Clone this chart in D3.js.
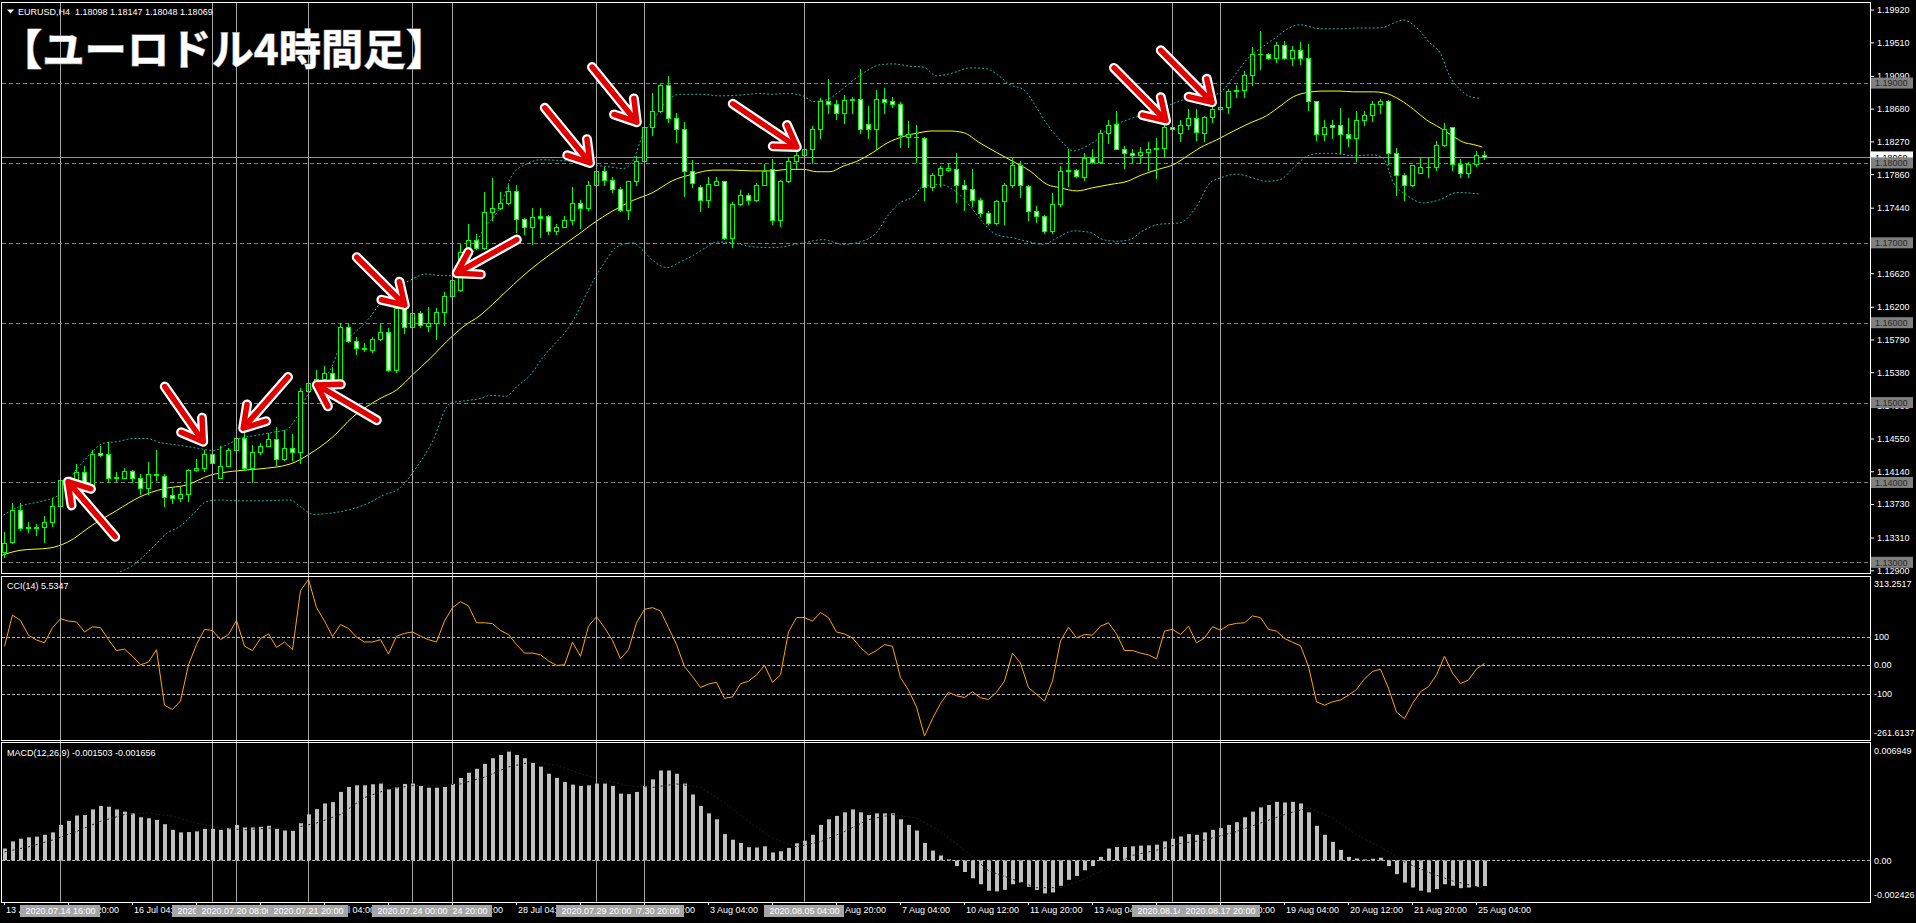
<!DOCTYPE html>
<html>
<head>
<meta charset="utf-8">
<script src="https://cdn.jsdelivr.net/npm/d3@7"></script>
<style>
  body { margin: 0; background: #000; overflow: hidden; }
  svg { display: block; }
</style>
</head>
<body>
<div id="chart"></div>
<script>
// EURUSD H4, 13 Jul 2020 12:00 .. 25 Aug 2020 08:00 (bar index 0..185)
const openP = [1.1313,1.1325,1.1366,1.1343,1.1343,1.1344,1.1350,1.1371,1.1399,1.1399,
  1.1413,1.1394,1.1437,1.1435,1.1406,1.1406,1.1414,1.1405,1.1393,1.1409,
  1.1408,1.1384,1.1381,1.1386,1.1416,1.1418,1.1435,1.1406,1.1421,1.1441,
  1.1456,1.1418,1.1438,1.1446,1.1455,1.1429,1.1443,1.1438,1.1515,1.1525,
  1.1530,1.1537,1.1524,1.1595,1.1577,1.1568,1.1566,1.1579,1.1588,1.1541,
  1.1618,1.1595,1.1612,1.1596,1.1599,1.1614,1.1634,1.1641,1.1688,1.1703,
  1.1694,1.1738,1.1744,1.1750,1.1765,1.1730,1.1720,1.1734,1.1734,1.1715,
  1.1720,1.1729,1.1750,1.1743,1.1773,1.1790,1.1779,1.1768,1.1741,1.1777,
  1.1803,1.1845,1.1865,1.1897,1.1856,1.1843,1.1790,1.1770,1.1753,1.1773,
  1.1778,1.1706,1.1748,1.1760,1.1753,1.1773,1.1792,1.1729,1.1777,1.1802,
  1.1810,1.1818,1.1842,1.1877,1.1874,1.1863,1.1879,1.1880,1.1849,1.1843,
  1.1880,1.1877,1.1874,1.1833,1.1832,1.1831,1.1770,1.1785,1.1791,1.1792,
  1.1773,1.1768,1.1753,1.1737,1.1725,1.1752,1.1772,1.1798,1.1771,1.1740,
  1.1733,1.1715,1.1748,1.1790,1.1791,1.1783,1.1806,1.1801,1.1838,1.1849,
  1.1818,1.1813,1.1810,1.1814,1.1817,1.1819,1.1845,1.1838,1.1848,1.1856,
  1.1838,1.1858,1.1867,1.1870,1.1890,1.1891,1.1910,1.1936,1.1936,1.1931,
  1.1948,1.1931,1.1941,1.1931,1.1878,1.1836,1.1848,1.1847,1.1836,1.1831,
  1.1854,1.1860,1.1874,1.1878,1.1812,1.1785,1.1773,1.1788,1.1795,1.1795,
  1.1823,1.1845,1.1799,1.1788,1.1799,1.18098];
const highP = [1.1338,1.1374,1.1374,1.1350,1.1348,1.1358,1.1380,1.1404,1.1405,1.1423,
  1.1420,1.1441,1.1446,1.1451,1.1413,1.1418,1.1415,1.1410,1.1425,1.1441,
  1.1410,1.1394,1.1394,1.1417,1.1429,1.1441,1.1436,1.1446,1.1443,1.1457,
  1.1462,1.1447,1.1449,1.1462,1.1470,1.1466,1.1461,1.1518,1.1528,1.1541,
  1.1546,1.1545,1.1600,1.1600,1.1582,1.1574,1.1582,1.1599,1.1593,1.1620,
  1.1620,1.1613,1.1615,1.1620,1.1618,1.1638,1.1655,1.1698,1.1724,1.1711,
  1.1764,1.1781,1.1764,1.1772,1.1773,1.1731,1.1743,1.1743,1.1735,1.1723,
  1.1733,1.1770,1.1753,1.1777,1.1799,1.1795,1.1782,1.1770,1.1778,1.1809,
  1.1847,1.1888,1.1899,1.1909,1.1863,1.1851,1.1804,1.1772,1.1782,1.1782,
  1.1778,1.1751,1.1766,1.1762,1.1775,1.1799,1.1805,1.1779,1.1806,1.1815,
  1.1819,1.1846,1.1881,1.1905,1.1879,1.1885,1.1883,1.1917,1.1871,1.1891,
  1.1894,1.1883,1.1876,1.1852,1.1847,1.1833,1.1788,1.1796,1.1800,1.1812,
  1.1779,1.1792,1.1756,1.1740,1.1754,1.1775,1.1806,1.1802,1.1772,1.1746,
  1.1735,1.1762,1.1796,1.1817,1.1792,1.1812,1.1818,1.1841,1.1854,1.1865,
  1.1821,1.1817,1.1820,1.1826,1.1831,1.1849,1.1847,1.1854,1.1868,1.1868,
  1.1859,1.1872,1.1875,1.1892,1.1898,1.1915,1.1945,1.1965,1.1938,1.1952,
  1.1953,1.1946,1.1951,1.1949,1.1878,1.1854,1.1854,1.1869,1.1856,1.1865,
  1.1865,1.1878,1.1880,1.1879,1.1819,1.1788,1.1798,1.1806,1.1806,1.1827,
  1.1850,1.1845,1.1805,1.1801,1.1815,1.18147];
const lowP = [1.1307,1.1324,1.1340,1.1338,1.1334,1.1325,1.1346,1.1370,1.1398,1.1398,
  1.1394,1.1393,1.1433,1.1401,1.1402,1.1405,1.1401,1.1385,1.1386,1.1403,
  1.1370,1.1374,1.1377,1.1377,1.1414,1.1414,1.1423,1.1405,1.1420,1.1440,
  1.1416,1.1401,1.1435,1.1445,1.1422,1.1428,1.1428,1.1424,1.1509,1.1524,
  1.1528,1.1523,1.1523,1.1576,1.1561,1.1565,1.1563,1.1578,1.1540,1.1538,
  1.1587,1.1594,1.1594,1.1589,1.1579,1.1597,1.1633,1.1640,1.1686,1.1692,
  1.1692,1.1728,1.1742,1.1749,1.1713,1.1711,1.1699,1.1707,1.1711,1.1711,
  1.1720,1.1724,1.1718,1.1741,1.1772,1.1772,1.1764,1.1740,1.1730,1.1773,
  1.1802,1.1835,1.1864,1.1851,1.1826,1.1759,1.1770,1.1740,1.1745,1.1773,
  1.1705,1.1695,1.1747,1.1749,1.1752,1.1772,1.1723,1.1721,1.1776,1.1794,
  1.1804,1.1800,1.1831,1.1863,1.1855,1.1850,1.1863,1.1838,1.1831,1.1817,
  1.1863,1.1870,1.1820,1.1820,1.1801,1.1753,1.1766,1.1771,1.1790,1.1751,
  1.1741,1.1746,1.1733,1.1724,1.1723,1.1723,1.1770,1.1757,1.1729,1.1726,
  1.1712,1.1712,1.1746,1.1771,1.1782,1.1779,1.1800,1.1800,1.1825,1.1817,
  1.1794,1.1800,1.1800,1.1791,1.1781,1.1809,1.1840,1.1828,1.1843,1.1829,
  1.1828,1.1851,1.1862,1.1863,1.1883,1.1883,1.1897,1.1918,1.1930,1.1927,
  1.1930,1.1922,1.1924,1.1866,1.1829,1.1829,1.1831,1.1812,1.1821,1.1802,
  1.1848,1.1852,1.1862,1.1799,1.1760,1.1753,1.1771,1.1787,1.1783,1.1791,
  1.1821,1.1791,1.1783,1.1783,1.1796,1.18048];
const closeP = [1.1324,1.1366,1.1343,1.1344,1.1344,1.1350,1.1371,1.1403,1.1403,1.1413,
  1.1395,1.1436,1.1434,1.1406,1.1407,1.1414,1.1405,1.1393,1.1410,1.1411,
  1.1382,1.1381,1.1386,1.1416,1.1418,1.1435,1.1424,1.1421,1.1441,1.1456,
  1.1418,1.1438,1.1446,1.1455,1.1429,1.1443,1.1438,1.1515,1.1525,1.1530,
  1.1537,1.1524,1.1595,1.1577,1.1568,1.1567,1.1579,1.1588,1.1541,1.1618,
  1.1595,1.1612,1.1597,1.1599,1.1614,1.1634,1.1654,1.1688,1.1704,1.1694,
  1.1738,1.1744,1.1750,1.1765,1.1730,1.1720,1.1732,1.1731,1.1715,1.1720,
  1.1729,1.1750,1.1743,1.1773,1.1790,1.1779,1.1768,1.1741,1.1777,1.1803,
  1.1845,1.1865,1.1897,1.1856,1.1843,1.1790,1.1775,1.1753,1.1774,1.1778,
  1.1706,1.1748,1.1760,1.1753,1.1773,1.1790,1.1728,1.1777,1.1802,1.1810,
  1.1818,1.1842,1.1877,1.1874,1.1863,1.1879,1.1880,1.1843,1.1843,1.1880,
  1.1876,1.1874,1.1835,1.1836,1.1832,1.1770,1.1785,1.1794,1.1794,1.1772,
  1.1768,1.1753,1.1737,1.1725,1.1752,1.1772,1.1798,1.1772,1.1740,1.1734,
  1.1715,1.1748,1.1790,1.1791,1.1784,1.1806,1.1801,1.1838,1.1848,1.1818,
  1.1813,1.1810,1.1814,1.1817,1.1819,1.1845,1.1842,1.1848,1.1856,1.1839,
  1.1858,1.1868,1.1870,1.1890,1.1891,1.1910,1.1936,1.1937,1.1931,1.1948,
  1.1931,1.1941,1.1931,1.1878,1.1836,1.1845,1.1845,1.1836,1.1831,1.1854,
  1.1860,1.1874,1.1878,1.1812,1.1785,1.1773,1.1797,1.1795,1.1795,1.1823,
  1.1842,1.1799,1.1788,1.1799,1.1810,1.18069];

// moving average and Bollinger bands at these bar positions
const maBar = [-0.5,2,5.75,7.9,11.1,14.1,17,19.9,22.9,25.75,28.6,32,35.75,38.25,41.1,43.6,47,49.1,51.2,53.25,55.3,57.4,59.5,61.6,63.7,65.75,67.8,69.9,72,73.6,76.1,78.6,81.1,83.6,86.1,88.6,91.1,93.6,95.75,98.25,99.9,101.6,103.25,104.9,106.6,108.6,110.4,112.4,114.5,116,118.25,119.9,122,124.1,126.1,128.25,130.4,132,134.1,136.1,138.25,140.4,142.2,144.3,146.2,147.8,149.5,151.6,153.7,155.75,157.8,159.5,161.2,162.8,164.9,167,168.7,171.2,172.4,174.5,176.2,177.8,179.5,181.2,182.4,183.7,184.8];
const maVal = [1.1308,1.1315,1.1318,1.1325,1.1347,1.1365,1.1382,1.1392,1.1397,1.1409,1.1414,1.1417,1.1423,1.1436,1.1457,1.1482,1.1505,1.1516,1.1536,1.1555,1.1576,1.1595,1.1609,1.1628,1.1648,1.1666,1.1682,1.1697,1.1712,1.1724,1.1740,1.1753,1.1763,1.1778,1.1786,1.1791,1.1791,1.1790,1.1790,1.1792,1.1792,1.1789,1.1789,1.1796,1.1802,1.1813,1.1825,1.1833,1.1838,1.1840,1.1840,1.1838,1.1825,1.1813,1.1802,1.1790,1.1773,1.1769,1.1765,1.1769,1.1773,1.1777,1.1785,1.1792,1.1798,1.1808,1.1819,1.1829,1.1840,1.1850,1.1859,1.1871,1.1883,1.1888,1.1890,1.1890,1.1889,1.1889,1.1888,1.1879,1.1867,1.1854,1.1844,1.1833,1.1826,1.1823,1.1820];
const upBar = [-0.1,2,4.9,6.8,8.25,9.9,11.2,12.4,14.1,16.2,17.8,19.5,21.6,24.1,26.2,27.8,29.5,31.6,33.7,35.3,36.6,37.8,39.1,40.75,42,43.7,45.75,47.4,48.8,50.3,52.8,54.5,56.2,57.4,58.7,59.5,62,63.6,65.4,67,69.5,72,74.1,75.75,77.4,78.6,79.9,81.1,82.9,84.5,87,89.5,92,94.5,96,97.8,99.9,101.1,102.8,104.5,106.2,107.8,109.5,111.2,113.25,114.9,116.6,118.7,120.75,122.8,124.5,125.75,127.4,129.1,130.4,132,133.7,134.9,136.6,138.25,139.9,141.6,143.25,145.3,147.4,150.3,152,153.7,155.3,157.4,159.1,160.3,162,164.5,167,169.5,172,173.7,174.9,176.6,178.25,179.5,180.75,182,183.25,184.5];
const upVal = [1.1359,1.1370,1.1377,1.1384,1.1406,1.1426,1.1440,1.1449,1.1451,1.1455,1.1455,1.1450,1.1447,1.1443,1.1440,1.1447,1.1455,1.1459,1.1463,1.1466,1.1482,1.1507,1.1524,1.1540,1.1570,1.1586,1.1607,1.1630,1.1645,1.1651,1.1661,1.1659,1.1659,1.1668,1.1690,1.1709,1.1745,1.1786,1.1799,1.1804,1.1803,1.1801,1.1797,1.1795,1.1793,1.1803,1.1836,1.1853,1.1878,1.1886,1.1886,1.1884,1.1885,1.1887,1.1886,1.1887,1.1884,1.1877,1.1879,1.1890,1.1904,1.1915,1.1923,1.1924,1.1921,1.1920,1.1909,1.1913,1.1919,1.1918,1.1908,1.1898,1.1892,1.1869,1.1848,1.1829,1.1815,1.1819,1.1829,1.1845,1.1852,1.1858,1.1863,1.1871,1.1879,1.1883,1.1888,1.1908,1.1929,1.1946,1.1958,1.1967,1.1973,1.1968,1.1968,1.1969,1.1969,1.1975,1.1979,1.1969,1.1950,1.1938,1.1908,1.1892,1.1883,1.1881];
const loBar = [0,5,10,14.75,15.75,17.4,19.1,20.3,22,23.7,25.3,27,29.5,32.4,35.75,37,38.7,40.3,42.8,45.3,47.4,49.5,51.5,53.5,55.75,57.4,59.5,60.75,62.8,64.1,65.75,67.4,68.7,70.3,71.6,72.8,74.1,75.3,76.6,78.6,79.9,81.1,82.9,84.5,86.1,87.9,89.1,91.1,93.6,96.1,99.9,102.4,104.9,107.8,109.1,110.4,112,113.7,114.9,117,119.1,120.75,122.4,124.1,126.2,128.25,129.9,131.6,133.7,135.75,137.4,139.1,140.75,142.2,144.3,147,149.1,150.75,152,154.1,156.2,157.8,159.5,161.2,162.8,164.5,166.2,168.7,171.2,172.4,173.7,175.3,177.4,179.5,181.6,184.5];
const loVal = [1.1250,1.1262,1.1276,1.1289,1.1294,1.1307,1.1324,1.1336,1.1345,1.1361,1.1376,1.1378,1.1377,1.1377,1.1378,1.1370,1.1360,1.1361,1.1365,1.1373,1.1384,1.1393,1.1418,1.1450,1.1499,1.1502,1.1505,1.1509,1.1508,1.1520,1.1534,1.1557,1.1572,1.1590,1.1611,1.1636,1.1660,1.1679,1.1695,1.1700,1.1690,1.1678,1.1669,1.1676,1.1684,1.1695,1.1701,1.1700,1.1695,1.1694,1.1700,1.1704,1.1698,1.1704,1.1713,1.1733,1.1750,1.1758,1.1771,1.1773,1.1763,1.1746,1.1725,1.1710,1.1706,1.1701,1.1698,1.1706,1.1715,1.1713,1.1704,1.1702,1.1704,1.1714,1.1723,1.1725,1.1746,1.1775,1.1781,1.1786,1.1781,1.1777,1.1779,1.1794,1.1808,1.1812,1.1812,1.1809,1.1810,1.1806,1.1775,1.1760,1.1750,1.1754,1.1763,1.1761];

// CCI(14), one value per bar
const cciVal = [66,175,156,104,88,78,131,162,154,151,116,134,131,89,51,56,31,1,11,54,
  -140,-155,-125,1,72,125,121,89,107,156,66,51,93,109,62,81,54,260,300,201,
  154,100,142,128,98,81,81,89,39,101,111,116,101,89,81,154,201,222,207,148,
  148,145,121,107,72,42,42,36,15,-1,1,80,31,136,169,131,86,22,54,148,
  195,201,189,131,72,-5,-40,-78,-66,-60,-116,-111,-65,-56,-34,-1,-60,-34,116,166,
  166,154,184,166,116,109,95,62,36,51,72,66,-44,-87,-146,-248,-187,-134,-95,-107,
  -113,-93,-114,-120,-95,-55,42,7,-79,-102,-126,-55,84,133,95,107,105,136,148,109,
  51,51,42,36,22,119,125,107,136,78,95,134,122,140,146,148,172,166,125,119,
  93,80,68,-5,-128,-140,-128,-122,-105,-85,-48,-22,-14,-81,-164,-187,-134,-93,-75,-34,
  31,-28,-64,-52,-13,5.5347];

// MACD(12,26,9) main values per bar, signal line sampled
const macdVal = [0.00070,0.00112,0.00128,0.00136,0.00140,0.00151,0.00165,0.00209,0.00233,0.00264,
  0.00267,0.00300,0.00320,0.00316,0.00300,0.00287,0.00277,0.00254,0.00248,0.00238,
  0.00213,0.00180,0.00165,0.00167,0.00171,0.00186,0.00186,0.00180,0.00190,0.00209,
  0.00194,0.00194,0.00198,0.00204,0.00186,0.00176,0.00174,0.00219,0.00271,0.00302,
  0.00335,0.00343,0.00403,0.00432,0.00442,0.00442,0.00448,0.00452,0.00419,0.00430,
  0.00450,0.00452,0.00438,0.00428,0.00428,0.00432,0.00450,0.00485,0.00516,0.00539,
  0.00568,0.00601,0.00620,0.00640,0.00620,0.00601,0.00574,0.00552,0.00510,0.00485,
  0.00461,0.00446,0.00438,0.00442,0.00452,0.00452,0.00438,0.00393,0.00390,0.00403,
  0.00438,0.00477,0.00529,0.00529,0.00510,0.00452,0.00388,0.00320,0.00277,0.00242,
  0.00155,0.00122,0.00103,0.00078,0.00076,0.00083,0.00047,0.00054,0.00074,0.00101,
  0.00116,0.00151,0.00209,0.00242,0.00262,0.00283,0.00300,0.00283,0.00267,0.00277,
  0.00277,0.00277,0.00242,0.00209,0.00176,0.00103,0.00058,0.00029,0.00006,-0.00033,
  -0.00068,-0.00105,-0.00140,-0.00178,-0.00182,-0.00173,-0.00140,-0.00130,-0.00155,-0.00174,
  -0.00194,-0.00188,-0.00149,-0.00114,-0.00091,-0.00058,-0.00033,0.00021,0.00070,0.00079,
  0.00079,0.00083,0.00087,0.00089,0.00093,0.00112,0.00128,0.00141,0.00155,0.00151,
  0.00165,0.00180,0.00190,0.00209,0.00225,0.00254,0.00287,0.00312,0.00326,0.00345,
  0.00341,0.00345,0.00335,0.00283,0.00204,0.00151,0.00109,0.00062,0.00021,0.00012,
  0.00006,0.00010,0.00016,-0.00033,-0.00081,-0.00130,-0.00159,-0.00178,-0.00188,-0.00169,
  -0.00140,-0.00149,-0.00163,-0.00159,-0.00155,-0.001503];
const sigBar = [0,3,6,9,12,15,18,21,24,27,30,33,36,39,42,45,48,51,54,57,60,63,66,69,72,75,78,81,84,87,90,93,96,99,102,105,108,111,114,117,120,123,126,129,132,135,138,141,144,147,150,154,157,160,163,166,169,172,175,178,181,185];
const sigVal = [0.0005,0.0008,0.0012,0.0017,0.0023,0.0027,0.0028,0.0026,0.0022,0.0019,0.0018,0.0019,0.0019,0.0022,0.0027,0.0037,0.0042,0.0044,0.0044,0.0045,0.0049,0.0055,0.0058,0.0056,0.0051,0.0047,0.0044,0.0043,0.0045,0.0043,0.0034,0.0023,0.0013,0.0008,0.0011,0.0017,0.0024,0.0027,0.0025,0.0017,0.0006,-0.0006,-0.0011,-0.0016,-0.0016,-0.0011,-0.0004,0.0003,0.0006,0.0010,0.0012,0.0017,0.0022,0.0027,0.0031,0.0025,0.0015,0.0008,-0.0001,-0.0007,-0.0012,-0.001656];

// axis labels and drawn objects
const tickBars = [0,8,16,24,32,40,48,56,64,72,80,88,96,104,112,120,128,136,144,152,160,168,176,184];
const tickLabels = ["13 Jul 12:00","14 Jul 20:00","16 Jul 04:00","17 Jul 12:00","20 Jul 20:00","22 Jul 04:00",
  "23 Jul 12:00","24 Jul 20:00","28 Jul 04:00","29 Jul 12:00","30 Jul 20:00","3 Aug 04:00","4 Aug 12:00",
  "5 Aug 20:00","7 Aug 04:00","10 Aug 12:00","11 Aug 20:00","13 Aug 04:00","14 Aug 12:00","17 Aug 20:00",
  "19 Aug 04:00","20 Aug 12:00","21 Aug 20:00","25 Aug 04:00"];
// vertical lines, listed in the order their axis labels are stacked
const vlineBars = [7,26,29,38,56,51,80,74,100,146,152];
const vlineLabels = ["2020.07.14 16:00","2020.07.17 20:00","2020.07.20 08:00","2020.07.21 20:00","2020.07.24 20:00",
  "2020.07.24 00:00","2020.07.30 20:00","2020.07.29 20:00","2020.08.05 04:00","2020.08.14 20:00","2020.08.17 20:00"];
const hlinePrices = [1.19,1.18,1.17,1.16,1.15,1.14,1.13];
const priceTicks = [1.19920,1.19510,1.19090,1.18680,1.18270,1.17860,1.17440,1.17030,1.16620,
  1.16200,1.15790,1.15380,1.14960,1.14550,1.14140,1.13730,1.13310,1.12900];
const lastPrice = 1.18069;
const cciLevels = [100, 0, -100];
const cciLabelVals = [313.2517, 100, 0, -100, -261.6137];
const cciLabelText = ["313.2517", "100", "0.00", "-100", "-261.6137"];
const macdLabelVals = [0.006949, 0, -0.002426];
const macdLabelText = ["0.006949", "0.00", "-0.002426"];

// red hand-drawn arrows: tip and tail in (bar, price)
const arrowTipBar = [8, 24.9, 29.9, 39.1, 50.1, 56.6, 73.25, 79.1, 99.1, 145.25, 151];
const arrowTipPrice = [1.1401, 1.1451, 1.1468, 1.1522, 1.1622, 1.1662, 1.1800, 1.1851, 1.1820, 1.1853, 1.1876];
const arrowTailBar = [13.9, 20.1, 35.5, 46.6, 44.1, 64.1, 67.6, 73.5, 91.1, 138.75, 144.6];
const arrowTailPrice = [1.1332, 1.1520, 1.1532, 1.1478, 1.1682, 1.1704, 1.1869, 1.1920, 1.1874, 1.1919, 1.1941];

const W = 1916, H = 923;
const right = 1870;
const mainTop = 2, mainBottom = 572.7;
const cciTop = 575.5, cciBottom = 740;
const macdTop = 742.3, macdBottom = 901.7;
const font = "'Liberation Sans', Arial, sans-serif";
const fs = 9;
const lime = "#00ff00";

const x = d3.scaleLinear().domain([0, 185]).range([4, 1484]);
const yMain = d3.scaleLinear().domain([1.1287, 1.20015]).range([mainBottom, mainTop]);
const yCci = d3.scaleLinear().domain([-261.6137, 313.2517]).range([cciBottom, cciTop]);
const yMacd = d3.scaleLinear().domain([-0.002426, 0.006949]).range([macdBottom, macdTop]);

const svg = d3.select("#chart").append("svg")
  .attr("width", W).attr("height", H)
  .style("background", "#000");

const defs = svg.append("defs");
[["clipMain", mainTop, mainBottom], ["clipCci", cciTop, cciBottom], ["clipMacd", macdTop, macdBottom]]
  .forEach(([id, t, b]) => {
    defs.append("clipPath").attr("id", id).append("rect")
      .attr("x", 2).attr("y", t).attr("width", right - 2).attr("height", b - t);
  });

const px = i => Math.round(x(i));

// horizontal price levels
const main = svg.append("g").attr("clip-path", "url(#clipMain)");
main.selectAll(".hl").data(hlinePrices).enter().append("line")
  .attr("x1", 2).attr("x2", right)
  .attr("y1", d => Math.round(yMain(d)) + 0.5).attr("y2", d => Math.round(yMain(d)) + 0.5)
  .attr("stroke", "#808080").attr("stroke-dasharray", "4,3");

// current price line
main.append("line")
  .attr("x1", 2).attr("x2", right)
  .attr("y1", Math.round(yMain(lastPrice)) + 0.5).attr("y2", Math.round(yMain(lastPrice)) + 0.5)
  .attr("stroke", "#8c96a0");

// vertical lines through all panels
svg.append("g").selectAll("line").data(vlineBars).enter().append("line")
  .attr("x1", d => px(d) + 0.5).attr("x2", d => px(d) + 0.5)
  .attr("y1", mainTop).attr("y2", macdBottom)
  .attr("stroke", "#a8a8a8");

// Bollinger bands and MA
const lineMain = d3.line().x(d => x(d[0])).y(d => yMain(d[1])).curve(d3.curveMonotoneX);
main.append("path").datum(d3.zip(upBar, upVal)).attr("d", lineMain)
  .attr("fill", "none").attr("stroke", "#20b2aa").attr("stroke-dasharray", "2,2");
main.append("path").datum(d3.zip(loBar, loVal)).attr("d", lineMain)
  .attr("fill", "none").attr("stroke", "#20b2aa").attr("stroke-dasharray", "2,2");
main.append("path").datum(d3.zip(maBar, maVal)).attr("d", lineMain)
  .attr("fill", "none").attr("stroke", "#ffff00").attr("stroke-width", 1);

// candles
const bars = d3.range(openP.length);
const candle = main.selectAll(".c").data(bars).enter().append("g");
candle.append("line")
  .attr("x1", i => px(i) + 0.5).attr("x2", i => px(i) + 0.5)
  .attr("y1", i => Math.round(yMain(highP[i]))).attr("y2", i => Math.round(yMain(lowP[i])) + 1)
  .attr("stroke", lime);
candle.each(function (i) {
  const g = d3.select(this);
  const top = Math.round(yMain(Math.max(openP[i], closeP[i]))) + 0.5;
  const bot = Math.round(yMain(Math.min(openP[i], closeP[i]))) + 0.5;
  if (bot - top < 1) {
    g.append("line").attr("x1", px(i) - 2).attr("x2", px(i) + 3)
      .attr("y1", top).attr("y2", top).attr("stroke", lime);
  } else {
    g.append("rect")
      .attr("x", px(i) - 1.5).attr("y", top).attr("width", 4).attr("height", bot - top)
      .attr("fill", closeP[i] >= openP[i] ? "#000" : "#fff")
      .attr("stroke", lime);
  }
});

// CCI panel
const cci = svg.append("g").attr("clip-path", "url(#clipCci)");
cci.selectAll("line").data(cciLevels).enter().append("line")
  .attr("x1", 2).attr("x2", right)
  .attr("y1", d => Math.round(yCci(d)) + 0.5).attr("y2", d => Math.round(yCci(d)) + 0.5)
  .attr("stroke", "#b4b4b4").attr("stroke-dasharray", "3,2");
cci.append("path").datum(cciVal)
  .attr("d", d3.line().x((d, i) => x(i) + 0.5).y(d => yCci(d)))
  .attr("fill", "none").attr("stroke", "#ffa500");

// MACD panel
const macd = svg.append("g").attr("clip-path", "url(#clipMacd)");
macd.selectAll("rect").data(macdVal).enter().append("rect")
  .attr("x", (d, i) => px(i) - 1).attr("width", 4)
  .attr("y", d => Math.min(yMacd(d), yMacd(0)))
  .attr("height", d => Math.abs(yMacd(d) - yMacd(0)))
  .attr("fill", "#c0c0c0");
macd.append("line")
  .attr("x1", 2).attr("x2", right)
  .attr("y1", Math.round(yMacd(0)) + 0.5).attr("y2", Math.round(yMacd(0)) + 0.5)
  .attr("stroke", "#b4b4b4").attr("stroke-dasharray", "3,2");
macd.append("path").datum(d3.zip(sigBar, sigVal))
  .attr("d", d3.line().x(d => x(d[0]) + 0.5).y(d => yMacd(d[1])))
  .attr("fill", "none").attr("stroke", "#1e1e1e").attr("stroke-dasharray", "2,2");

// panel frames
[[mainTop, mainBottom], [cciTop, cciBottom], [macdTop, macdBottom]].forEach(([t, b]) => {
  svg.append("rect").attr("x", 1.5).attr("y", Math.round(t) + 0.5)
    .attr("width", right - 1).attr("height", Math.round(b) - Math.round(t))
    .attr("fill", "none").attr("stroke", "#fff");
});

// price axis
const pAxis = svg.append("g").attr("transform", `translate(${right + 1},0)`)
  .call(d3.axisRight(yMain).tickValues(priceTicks).tickSize(3).tickPadding(3).tickFormat(d3.format(".5f")));
pAxis.select(".domain").remove();
pAxis.selectAll("line").attr("stroke", "#fff");
pAxis.selectAll("text").attr("fill", "#fff").attr("font-family", font).attr("font-size", fs);

// current price box, then level boxes
svg.append("rect").attr("x", right + 1).attr("y", yMain(lastPrice) - 6).attr("width", 42).attr("height", 11)
  .attr("fill", "#fff");
svg.append("text").attr("x", right + 5).attr("y", yMain(lastPrice) + 3.2).text(d3.format(".5f")(lastPrice))
  .attr("fill", "#000").attr("font-family", font).attr("font-size", fs);
const pBox = svg.append("g").selectAll("g").data(hlinePrices).enter().append("g");
pBox.append("rect").attr("x", right + 1).attr("y", d => yMain(d) - 5.5).attr("width", 42).attr("height", 11)
  .attr("fill", "#808080");
pBox.append("text").attr("x", right + 5).attr("y", d => yMain(d) + 3.3).text(d => d3.format(".5f")(d))
  .attr("fill", "#2a2a2a").attr("font-family", font).attr("font-size", fs);

// CCI / MACD scale labels
const clampY = (y, t, b) => Math.max(t + 8, Math.min(b - 7, y));
svg.append("g").selectAll("text").data(cciLabelVals).enter().append("text")
  .attr("x", right + 4).attr("y", d => clampY(yCci(d), cciTop, cciBottom) + 3.2)
  .text((d, i) => cciLabelText[i])
  .attr("fill", "#fff").attr("font-family", font).attr("font-size", fs);
svg.append("g").selectAll("text").data(macdLabelVals).enter().append("text")
  .attr("x", right + 4).attr("y", d => clampY(yMacd(d), macdTop, macdBottom) + 3.2)
  .text((d, i) => macdLabelText[i])
  .attr("fill", "#fff").attr("font-family", font).attr("font-size", fs);

// time axis
const tAxis = svg.append("g").attr("transform", `translate(0,${Math.round(macdBottom)})`)
  .call(d3.axisBottom(x).tickValues(tickBars).tickSize(3).tickPadding(2).tickFormat((d, i) => tickLabels[i]));
tAxis.select(".domain").remove();
tAxis.selectAll("line").attr("stroke", "#fff");
tAxis.selectAll("text").attr("fill", "#fff").attr("font-family", font).attr("font-size", fs)
  .attr("text-anchor", "start").attr("x", 1.5);

// labels of the vertical lines on the time axis
const tBox = svg.append("g").selectAll("g").data(vlineBars).enter().append("g");
tBox.append("rect").attr("x", d => px(d) - 40).attr("y", 905).attr("width", 80).attr("height", 12)
  .attr("fill", "#a6a6a6");
tBox.append("text").attr("x", d => px(d) + 0.5).attr("y", 914.3).attr("text-anchor", "middle")
  .text((d, i) => vlineLabels[i])
  .attr("fill", "#fff").attr("font-family", font).attr("font-size", fs);

// header texts
svg.append("path").attr("d", "M7,9.5 L14,9.5 L10.5,13.5 Z").attr("fill", "#fff");
svg.append("text").attr("x", 18).attr("y", 14.5).style("white-space", "pre")
  .text("EURUSD,H4  1.18098 1.18147 1.18048 1.18069")
  .attr("fill", "#fff").attr("font-family", font).attr("font-size", fs);
svg.append("text").attr("x", 7).attr("y", 588.5).text("CCI(14) 5.5347")
  .attr("fill", "#fff").attr("font-family", font).attr("font-size", fs);
svg.append("text").attr("x", 7).attr("y", 755.5).text("MACD(12,26,9) -0.001503 -0.001656")
  .attr("fill", "#fff").attr("font-family", font).attr("font-size", fs);

// arrows
const arrows = d3.range(arrowTipBar.length).map(i => {
  const tx = x(arrowTipBar[i]), ty = yMain(arrowTipPrice[i]);
  const sx = x(arrowTailBar[i]), sy = yMain(arrowTailPrice[i]);
  const ang = Math.atan2(sy - ty, sx - tx);
  const len = 24, spread = 0.56;
  const a1 = [tx + len * Math.cos(ang + spread), ty + len * Math.sin(ang + spread)];
  const a2 = [tx + len * Math.cos(ang - spread), ty + len * Math.sin(ang - spread)];
  return `M${sx},${sy}L${tx},${ty}M${a1[0]},${a1[1]}L${tx},${ty}L${a2[0]},${a2[1]}`;
});
const arrowG = svg.append("g");
arrowG.selectAll(".halo").data(arrows).enter().append("path").attr("d", d => d)
  .attr("fill", "none").attr("stroke", "#fff").attr("stroke-width", 10)
  .attr("stroke-linecap", "round").attr("stroke-linejoin", "round");
arrowG.selectAll(".red").data(arrows).enter().append("path").attr("d", d => d)
  .attr("fill", "none").attr("stroke", "#e00000").attr("stroke-width", 5.5)
  .attr("stroke-linecap", "round").attr("stroke-linejoin", "round");

// title
svg.append("text").attr("x", 0).attr("y", 65)
  .text("【ユーロドル4時間足】")
  .attr("font-family", "'Noto Sans CJK JP', sans-serif").attr("font-weight", 700).attr("font-size", 42.3)
  .attr("fill", "#fff").attr("stroke", "#8a8a8a").attr("stroke-width", 1.2).attr("paint-order", "stroke");
</script>
</body>
</html>
